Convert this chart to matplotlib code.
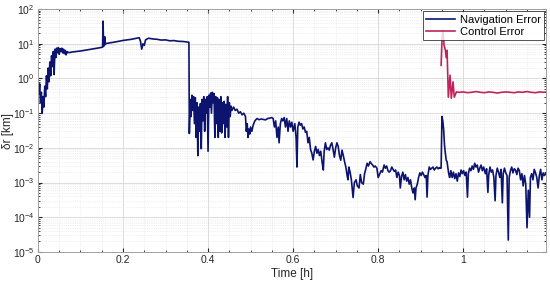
import matplotlib.pyplot as plt
from matplotlib.ticker import LogLocator, MultipleLocator, NullFormatter

# navigation error [km]
nav_t = [
    0.000, 0.002, 0.004, 0.006, 0.008, 0.010, 0.012, 0.014, 0.016, 0.018,
    0.020, 0.022, 0.024, 0.026, 0.028, 0.030, 0.032, 0.034, 0.036, 0.038,
    0.040, 0.042, 0.044, 0.046, 0.048, 0.050, 0.052, 0.054, 0.056, 0.058,
    0.060, 0.062, 0.064, 0.066, 0.068, 0.070, 0.072, 0.075,
    0.080, 0.100, 0.120, 0.140, 0.150, 0.152, 0.153, 0.1545, 0.156, 0.157,
    0.158, 0.160, 0.180, 0.200, 0.220, 0.238, 0.241, 0.244, 0.247, 0.250,
    0.253, 0.260, 0.270, 0.280, 0.290, 0.300, 0.310, 0.320, 0.330, 0.340,
    0.353, 0.355, 0.356,
    0.358, 0.360, 0.362, 0.364, 0.366, 0.368, 0.370, 0.372, 0.374, 0.376,
    0.378, 0.380, 0.382, 0.384, 0.386, 0.388, 0.390, 0.392, 0.394, 0.396,
    0.398, 0.400, 0.402, 0.404, 0.406, 0.408, 0.410, 0.412, 0.414, 0.416,
    0.418, 0.420, 0.422, 0.424, 0.426, 0.428, 0.430, 0.432, 0.434, 0.436,
    0.438, 0.440, 0.442, 0.444, 0.446, 0.448, 0.450, 0.452, 0.454, 0.456,
    0.460, 0.464, 0.468, 0.472, 0.476, 0.480, 0.484, 0.488, 0.490, 0.492,
    0.494, 0.496, 0.498, 0.500, 0.503, 0.506, 0.510, 0.515, 0.520, 0.525,
    0.530, 0.535, 0.540, 0.545, 0.550, 0.553, 0.556, 0.559, 0.562, 0.565,
    0.567, 0.570, 0.573, 0.576, 0.579, 0.582, 0.585, 0.588, 0.591, 0.594,
    0.597, 0.600, 0.604, 0.607, 0.609,
    0.611, 0.614, 0.617, 0.620, 0.623, 0.626, 0.629, 0.632, 0.635, 0.638,
    0.641, 0.644, 0.647, 0.650, 0.653, 0.656, 0.659, 0.662, 0.665, 0.668,
    0.671, 0.673, 0.676, 0.679, 0.682, 0.685, 0.688, 0.691, 0.694, 0.697,
    0.700, 0.703, 0.706, 0.709, 0.712, 0.715, 0.718, 0.721, 0.724, 0.727,
    0.729, 0.731, 0.734, 0.737, 0.741, 0.744, 0.748, 0.751, 0.755, 0.758,
    0.761, 0.765, 0.768, 0.771, 0.774, 0.777, 0.781, 0.784, 0.787, 0.790,
    0.793, 0.797, 0.800, 0.803, 0.807, 0.810, 0.814, 0.817, 0.820, 0.823,
    0.826, 0.829, 0.832, 0.835, 0.838, 0.841, 0.844, 0.847, 0.850, 0.852,
    0.855, 0.858, 0.861, 0.864, 0.867, 0.870, 0.873, 0.876, 0.879, 0.882,
    0.885, 0.887, 0.889, 0.892, 0.895, 0.898, 0.901, 0.904, 0.907, 0.910,
    0.913, 0.915, 0.917, 0.920, 0.923, 0.926, 0.929, 0.932, 0.935, 0.938,
    0.941, 0.944, 0.946, 0.948, 0.950, 0.952, 0.954,
    0.956, 0.958, 0.960, 0.962, 0.964, 0.966, 0.968, 0.971, 0.974, 0.977,
    0.980, 0.983, 0.986, 0.989, 0.992, 0.995, 0.998, 1.001, 1.004, 1.007,
    1.010, 1.012, 1.015, 1.018, 1.021, 1.024, 1.027, 1.030, 1.033, 1.036,
    1.039, 1.042, 1.045, 1.048, 1.052, 1.055, 1.058, 1.060, 1.063, 1.066,
    1.069, 1.072, 1.075, 1.077, 1.080, 1.083, 1.086, 1.089, 1.092, 1.094,
    1.097, 1.100, 1.103, 1.106, 1.108, 1.111, 1.114, 1.117, 1.120, 1.123,
    1.126, 1.129, 1.132, 1.135, 1.138, 1.141, 1.144, 1.147, 1.150, 1.153,
    1.156, 1.158, 1.161, 1.164, 1.167, 1.170, 1.173, 1.176, 1.179, 1.182,
    1.185, 1.188, 1.191, 1.195,
]
nav_err = [
    0.9, 0.35, 0.7, 0.2, 0.4, 0.1, 0.3, 0.15, 0.6, 0.3,
    1.2, 0.5, 2.0, 0.8, 3.0, 1.2, 4.5, 2.2, 6.0, 1.3,
    7.0, 4.0, 7.5, 5.5, 7.8, 5.0, 7.2, 6.0, 7.5, 5.5,
    7.0, 5.2, 6.5, 4.8, 6.0, 5.5, 5.7, 5.6,
    5.8, 6.2, 6.8, 7.5, 7.9, 8.0, 45.0, 8.5, 11.0, 16.0,
    9.5, 10.2, 11.2, 12.5, 13.5, 15.0, 12.0, 7.0, 10.0, 9.0,
    13.0, 14.5, 13.8, 13.5, 12.8, 13.0, 12.2, 12.4, 11.8, 11.7,
    11.2, 11.0, 0.026,
    0.25, 0.08, 0.33, 0.12, 0.3, 0.05, 0.28, 0.02, 0.2, 0.006,
    0.15, 0.03, 0.19, 0.0095, 0.25, 0.06, 0.3, 0.03, 0.25, 0.1,
    0.3, 0.008, 0.33, 0.15, 0.38, 0.1, 0.4, 0.2, 0.37, 0.02,
    0.3, 0.05, 0.28, 0.02, 0.25, 0.03, 0.3, 0.027, 0.2, 0.05,
    0.22, 0.02, 0.18, 0.04, 0.3, 0.02, 0.2, 0.08, 0.16, 0.12,
    0.15, 0.12, 0.13, 0.1, 0.11, 0.09, 0.1, 0.08, 0.03, 0.05,
    0.02, 0.035, 0.025, 0.04, 0.03, 0.045, 0.06, 0.07, 0.065, 0.068,
    0.066, 0.064, 0.07, 0.072, 0.075, 0.07, 0.04, 0.06, 0.02, 0.04,
    0.014, 0.05, 0.07, 0.06, 0.075, 0.04, 0.07, 0.03, 0.06, 0.04,
    0.055, 0.03, 0.05, 0.02, 0.0028,
    0.04, 0.055, 0.045, 0.05, 0.035, 0.04, 0.028, 0.03, 0.014, 0.02,
    0.009, 0.007, 0.0045, 0.008, 0.011, 0.007, 0.009, 0.006, 0.008, 0.004,
    0.0023, 0.008, 0.014, 0.009, 0.01, 0.0086, 0.012, 0.014, 0.009, 0.0054,
    0.01, 0.014, 0.011, 0.006, 0.0044, 0.0086, 0.006, 0.004, 0.0028, 0.0016,
    0.0012, 0.0028, 0.002, 0.0012, 0.00037, 0.001, 0.0012, 0.0008, 0.0007, 0.0017,
    0.001, 0.0009, 0.0018, 0.0025, 0.0036, 0.003, 0.004, 0.0035, 0.0032, 0.0028,
    0.003, 0.0026, 0.0014, 0.0017, 0.0022, 0.002, 0.0032, 0.0026, 0.003, 0.0022,
    0.002, 0.0022, 0.0028, 0.0024, 0.0021, 0.0023, 0.0014, 0.002, 0.0016, 0.0007,
    0.0015, 0.002, 0.0012, 0.0017, 0.0011, 0.0014, 0.0009, 0.0012, 0.0007, 0.0005,
    0.0007, 0.00032, 0.0007, 0.0009, 0.0014, 0.0019, 0.0016, 0.002, 0.0017, 0.0014,
    0.0016, 0.00038, 0.0016, 0.0028, 0.0024, 0.0026, 0.0028, 0.0023, 0.0026, 0.0028,
    0.0025, 0.0027, 0.0026, 0.0026, 0.08, 0.06, 0.033,
    0.012, 0.007, 0.0044, 0.004, 0.0026, 0.0018, 0.0014, 0.0022, 0.0014, 0.002,
    0.0013, 0.0018, 0.0011, 0.0019, 0.0015, 0.0023, 0.0018, 0.0022, 0.0016, 0.002,
    0.00038, 0.0018, 0.0026, 0.0022, 0.003, 0.0024, 0.0036, 0.0028, 0.0032, 0.002,
    0.0026, 0.0032, 0.0022, 0.0028, 0.0018, 0.0025, 0.00052, 0.0017, 0.0028, 0.002,
    0.0023, 0.0014, 0.0003, 0.0016, 0.0026, 0.002, 0.0014, 0.0024, 0.00026, 0.0018,
    0.0026, 0.0019, 0.0016, 0.000022, 0.0014, 0.0022, 0.0028, 0.0019, 0.0025, 0.0023,
    0.0017, 0.0026, 0.0022, 0.0012, 0.0018, 0.0008, 0.0016, 0.0009, 0.00005, 0.0006,
    0.0001, 0.0014, 0.0018, 0.0012, 0.0024, 0.0019, 0.0014, 0.0007, 0.0016, 0.0024,
    0.0012, 0.0019, 0.0016, 0.0019,
]

# control error [km]
ctrl_t = [0.948, 0.950, 0.952, 0.955, 0.958, 0.960, 0.962, 0.965, 0.969, 0.972,
          0.976, 0.979, 0.984, 0.990, 1.000, 1.010, 1.020, 1.030, 1.040, 1.050,
          1.060, 1.070, 1.080, 1.090, 1.100, 1.110, 1.120, 1.130, 1.140, 1.150,
          1.160, 1.170, 1.180, 1.190, 1.195]
ctrl_err = [2.4, 12.0, 25.0, 9.0, 6.6, 4.0, 6.5, 0.29, 1.25, 0.27,
            0.8, 0.29, 0.41, 0.40, 0.41, 0.39, 0.40, 0.42, 0.40, 0.39,
            0.41, 0.40, 0.38, 0.40, 0.41, 0.40, 0.39, 0.41, 0.40, 0.42,
            0.40, 0.39, 0.41, 0.40, 0.41]

x_ticks = [0, 0.2, 0.4, 0.6, 0.8, 1]
x_labels = ["0", "0.2", "0.4", "0.6", "0.8", "1"]

plt.rcParams['font.family'] = ['Liberation Sans', 'DejaVu Sans']
plt.rcParams['mathtext.fontset'] = 'custom'
plt.rcParams['mathtext.rm'] = 'Liberation Sans'
plt.rcParams['mathtext.it'] = 'Liberation Sans:italic'
plt.rcParams['mathtext.default'] = 'regular'

fig = plt.figure(figsize=(5.5, 2.85), dpi=100)
ax = fig.add_axes([0.069, 0.116, 0.924, 0.852])

ax.plot(nav_t, nav_err, color='#0d1470', lw=1.2, label='Navigation Error')
ax.plot(ctrl_t, ctrl_err, color='#c0245a', lw=1.2, label='Control Error')

ax.set_yscale('log')
ax.set_xlim(0, 1.195)
ax.set_ylim(1e-5, 1e2)
ax.set_xticks(x_ticks)
ax.set_xticklabels(x_labels)
ax.xaxis.set_minor_locator(MultipleLocator(0.05))
ax.set_yticks([10.0 ** k for k in range(-5, 3)])
ax.yaxis.set_minor_locator(LogLocator(base=10, subs=range(2, 10), numticks=20))
ax.yaxis.set_minor_formatter(NullFormatter())

ax.grid(True, which='major', color='#dcdcdc', lw=0.7, ls='-')
ax.grid(True, which='minor', color='#e2e2e2', lw=0.5, ls=':')
ax.set_axisbelow(True)

ax.tick_params(which='both', direction='in', top=True, right=True,
               colors='#262626', labelsize=7.5)
ax.tick_params(which='major', length=3, pad=2.5)
ax.tick_params(which='minor', length=1.5)
for s in ax.spines.values():
    s.set_color('#a0a0a0')
    s.set_linewidth(0.7)

ax.set_xlabel('Time [h]', fontsize=8.5, color='#262626', labelpad=2)
ax.set_ylabel('δr [km]', fontsize=8.5, color='#262626')
ax.yaxis.set_label_coords(-0.047, 0.5)

leg = ax.legend(loc='upper right', fontsize=8, frameon=True, fancybox=False,
                borderpad=0.3, handlelength=2.6, handletextpad=0.4,
                labelspacing=0.2, borderaxespad=0.2)
leg.get_frame().set_edgecolor('#262626')
leg.get_frame().set_linewidth(0.7)

fig.savefig('out.png', dpi=100)
